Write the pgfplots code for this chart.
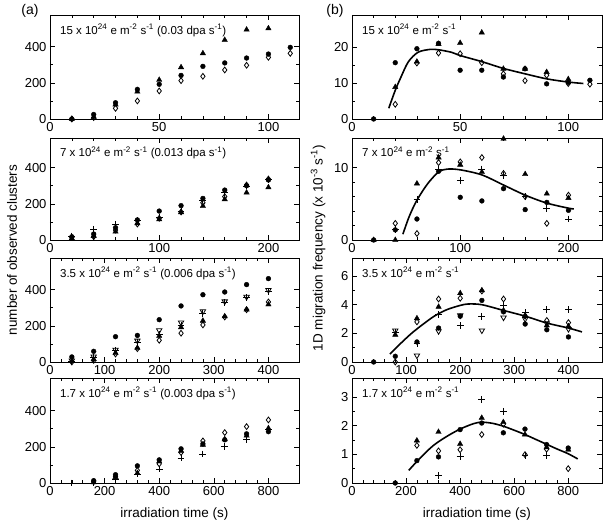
\documentclass[border=0pt]{standalone}
\usepackage{fontspec}
\setmainfont{Liberation Sans}
\usepackage{pgfplots}
\pgfplotsset{compat=1.18}

\pgfplotsset{
  panel/.style={
    scale only axis, anchor=south west, xmin=0, ymin=0,
    tick align=inside, major tick length=5pt, minor tick length=3pt,
    minor x tick num=4, minor y tick num=1,
    every tick/.style={black, line width=0.6pt},
    axis line style={line width=0.8pt},
    ticklabel style={font=\fontsize{13}{15}\selectfont},
    /pgf/number format/assume math mode=true,
    /pgf/number format/1000 sep={},
    clip=false,
  },
  lpanel/.style={panel, width=249pt},
  rpanel/.style={panel, width=250pt},
  dot/.style={only marks, mark=*, mark size=2.4pt, black},
  tri/.style={only marks, mark=triangle*, mark size=3.1pt, black},
  dia/.style={only marks, mark=diamond, mark size=2.9pt, black, mark options={line width=0.8pt}},
  cross/.style={only marks, mark=+, mark size=3.4pt, black, mark options={line width=0.8pt}},
  itri/.style={only marks, mark=triangle, mark size=3.1pt, black, mark options={rotate=180, line width=0.8pt}},
  fit/.style={no marks, black, line width=1.6pt, smooth},
  timelabel/.style={xlabel={irradiation time (s)}, xlabel style={font=\fontsize{13.5}{15}\selectfont, yshift=-5pt}},
}
\newcommand{\note}[1]{\node[anchor=north west, inner sep=0pt, font=\fontsize{11.5}{13}\selectfont] at (rel axis cs:0.04,0.915) {#1};}
\newcommand{\sps}[1]{\textsuperscript{#1}}

\begin{document}
\begin{tikzpicture}
\path[use as bounding box] (0,0) rectangle (607pt,525pt);

% ---------------- row 1 : 15e24 ----------------
\begin{axis}[lpanel, at={(50pt,406pt)}, height=104pt, xmax=114, ymax=575,
  xtick={0,50,100}, ytick={0,200,400}]
\addplot[dot] coordinates {(10,0)(20,25)(30,90)(40,164)(50,192)(60,241)(70,291)(80,310)(90,337)(100,359)(110,396)};
\addplot[tri] coordinates {(10,0)(20,10)(30,80)(40,151)(50,216)(60,286)(70,363)(80,437)(90,494)(100,501)};
\addplot[dia] coordinates {(10,0)(20,8)(30,59)(40,100)(50,155)(60,212)(70,236)(80,271)(90,297)(100,341)(110,363)};
\note{15 x 10\sps{24} e m\sps{-2} s\sps{-1} (0.03 dpa s\sps{-1})}
\end{axis}

\begin{axis}[rpanel, at={(352pt,406pt)}, height=104pt, xmax=115.6, ymax=29,
  xtick={0,50,100}, ytick={0,10,20}]
\addplot[dot] coordinates {(10,0)(20,15.7)(30,19.6)(40,21.1)(50,13.6)(60,13.6)(70,11.7)(80,14.0)(90,9.8)(100,10.2)(110,10.8)};
\addplot[tri] coordinates {(20,8.9)(30,16)(40,20.9)(50,21.2)(60,24.1)(70,14.0)(80,14.0)(90,13.1)(100,11.1)};
\addplot[dia] coordinates {(20,4.1)(30,15.6)(40,18.4)(50,18.2)(60,15.7)(70,12.6)(80,10.7)(90,12.2)(100,9.9)(110,9.7)};
\addplot[fit] coordinates {(17,3)(20,8)(22.5,11.5)(26,15.9)(30.5,18.6)(36,19.4)(40,19.3)(46,18.6)(50,17.7)(60,16.0)(70,14.1)(80,12.6)(90,11.2)(100,10.3)(107,9.9)};
\note{15 x 10\sps{24} e m\sps{-2} s\sps{-1}}
\end{axis}

% ---------------- row 2 : 7e24 ----------------
\begin{axis}[lpanel, at={(50pt,285pt)}, height=102pt, xmax=228, ymax=564,
  xtick={0,100,200}, ytick={0,200,400}]
\addplot[dot] coordinates {(20,18)(40,33)(60,68)(80,111)(100,160)(120,190)(140,230)(160,276)(180,300)(200,332)};
\addplot[tri] coordinates {(20,9)(40,22)(60,46)(80,92)(100,114)(120,153)(140,188)(160,225)(180,262)(200,291)};
\addplot[dia] coordinates {(20,15)(40,18)(60,55)(80,88)(100,120)(120,155)(140,206)(160,240)(180,304)(200,337)};
\addplot[cross] coordinates {(20,22)(40,59)(60,87)(80,107)(100,125)(120,157)(140,221)(160,262)(180,299)(200,335)};
\note{7 x 10\sps{24} e m\sps{-2} s\sps{-1} (0.013 dpa s\sps{-1})}
\end{axis}

\begin{axis}[rpanel, at={(352pt,285pt)}, height=102pt, xmax=231, ymax=14.1,
  xtick={0,100,200}, ytick={0,10}, minor y tick num=4]
\addplot[dot] coordinates {(20,0)(40,1.4)(60,2.9)(80,9.5)(100,5.9)(120,5.4)(140,7.1)(160,4.2)(180,5.2)(200,4.1)};
\addplot[tri] coordinates {(20,0)(40,0)(60,7.8)(80,11.4)(100,10.4)(120,9.4)(140,14.0)(160,9.1)(180,6.4)(200,5.8)};
\addplot[dia] coordinates {(40,2.3)(60,0.9)(80,10.7)(100,10.8)(120,11.4)(140,9.2)(160,6.0)(180,2.3)(200,6.2)};
\addplot[cross] coordinates {(40,1.5)(60,5.6)(80,9.7)(100,8.2)(120,9.8)(140,8.9)(160,6.0)(180,4.4)(200,2.9)};
\addplot[fit] coordinates {(47,0.8)(53,3.3)(60,5.5)(70,7.8)(80,9.4)(88,9.8)(100,9.7)(120,9.0)(140,7.6)(160,6.2)(180,5.1)(200,4.4)(205,4.3)};
\note{7 x 10\sps{24} e m\sps{-2} s\sps{-1}}
\end{axis}

% ---------------- row 3 : 3.5e24 ----------------
\begin{axis}[lpanel, at={(50pt,163pt)}, height=104pt, xmax=456, ymax=575,
  xtick={0,100,...,400}, ytick={0,200,400}]
\addplot[dot] coordinates {(40,28)(80,59)(120,140)(160,147)(200,234)(240,310)(280,372)(320,387)(360,428)(400,461)};
\addplot[tri] coordinates {(40,5)(80,15)(120,50)(160,78)(200,144)(240,192)(280,228)(320,252)(360,290)(400,318)};
\addplot[dia] coordinates {(40,0)(80,9)(120,44)(160,74)(200,120)(240,159)(280,205)(320,249)(360,289)(400,332)};
\addplot[cross] coordinates {(40,5)(80,25)(120,62)(160,110)(200,150)(240,205)(280,270)(320,328)(360,355)(400,390)};
\addplot[itri] coordinates {(40,8)(80,30)(120,68)(160,118)(200,175)(240,218)(280,280)(320,335)(360,360)(400,398)};
\note{3.5 x 10\sps{24} e m\sps{-2} s\sps{-1} (0.006 dpa s\sps{-1})}
\end{axis}

\begin{axis}[rpanel, at={(352pt,163pt)}, height=104pt, xmax=462, ymax=7.26,
  xtick={0,100,...,400}, ytick={0,2,4,6}]
\addplot[dot] coordinates {(40,0)(80,0.4)(120,1.4)(160,2.37)(200,3.2)(240,4.3)(280,3.5)(320,2.65)(360,2.25)(400,1.75)};
\addplot[tri] coordinates {(80,1.9)(120,3.05)(160,3.85)(200,4.8)(240,5.0)(280,3.6)(320,3.25)(360,2.55)(400,2.5)};
\addplot[dia] coordinates {(80,0)(120,2.8)(160,4.4)(200,4.45)(240,4.95)(280,4.4)(320,3.2)(360,2.9)(400,2.75)};
\addplot[cross] coordinates {(80,2.1)(120,1.3)(160,3.3)(200,2.55)(240,3.2)(280,3.95)(320,3.45)(360,3.65)(400,3.65)};
\addplot[itri] coordinates {(80,2.2)(120,0.45)(160,2.15)(200,3.25)(240,2.2)(280,3.1)(320,3.0)(360,2.7)(400,2.3)};
\addplot[fit] coordinates {(70,0.55)(90,1.3)(110,2.0)(130,2.6)(152,3.2)(175,3.65)(200,3.95)(215,4.05)(240,4.0)(280,3.6)(320,3.2)(360,2.72)(400,2.37)(425,2.1)};
\note{3.5 x 10\sps{24} e m\sps{-2} s\sps{-1}}
\end{axis}

% ---------------- row 4 : 1.7e24 ----------------
\begin{axis}[lpanel, at={(50pt,42pt)}, height=105pt, xmax=912, ymax=581,
  xtick={0,200,...,800}, ytick={0,200,400}, timelabel]
\addplot[dot] coordinates {(160,13)(240,46)(320,95)(400,128)(480,189)(560,216)(640,239)(720,272)(800,284)};
\addplot[tri] coordinates {(160,4)(240,33)(320,55)(400,119)(480,178)(560,211)(640,242)(720,262)(800,303)};
\addplot[dia] coordinates {(160,7)(240,37)(320,70)(400,106)(480,169)(560,233)(640,279)(720,312)(800,349)};
\addplot[cross] coordinates {(80,0)(160,0)(240,22)(320,50)(400,77)(480,138)(560,160)(640,202)(720,242)(800,297)};
\note{1.7 x 10\sps{24} e m\sps{-2} s\sps{-1} (0.003 dpa s\sps{-1})}
\end{axis}

\begin{axis}[rpanel, at={(352pt,42pt)}, height=105pt, xmax=925, ymax=3.66,
  xtick={0,200,...,800}, ytick={0,1,2,3}, timelabel]
\addplot[dot] coordinates {(160,0)(240,0.78)(320,0.91)(400,1.86)(480,2.09)(560,1.75)(640,1.88)(720,1.34)(800,1.22)};
\addplot[tri] coordinates {(240,1.48)(320,1.78)(400,1.36)(480,2.27)(560,2.12)(640,1.69)(720,1.24)(800,1.16)};
\addplot[dia] coordinates {(240,1.31)(320,1.12)(400,1.16)(480,1.69)(560,2.05)(640,0.99)(720,1.18)(800,0.5)};
\addplot[cross] coordinates {(320,0.26)(400,0.93)(480,2.9)(560,2.5)(640,0.95)(720,0.95)};
\addplot[fit] coordinates {(210,0.44)(250,0.85)(300,1.3)(350,1.62)(400,1.88)(450,2.07)(480,2.12)(520,2.08)(560,1.98)(600,1.84)(640,1.69)(680,1.52)(720,1.35)(760,1.18)(800,1.02)(835,0.84)};
\note{1.7 x 10\sps{24} e m\sps{-2} s\sps{-1}}
\end{axis}

% shared axis titles and panel letters
\node[rotate=90, font=\fontsize{13.5}{15}\selectfont] at (12pt,275pt) {number of observed clusters};
\node[rotate=90, font=\fontsize{13.5}{15}\selectfont] at (318pt,277pt) {1D migration frequency (x 10\sps{-3} s\sps{-1})};
\node[font=\fontsize{14}{16}\selectfont] at (30pt,514pt) {(a)};
\node[font=\fontsize{14}{16}\selectfont] at (335pt,514pt) {(b)};
\end{tikzpicture}
\end{document}
